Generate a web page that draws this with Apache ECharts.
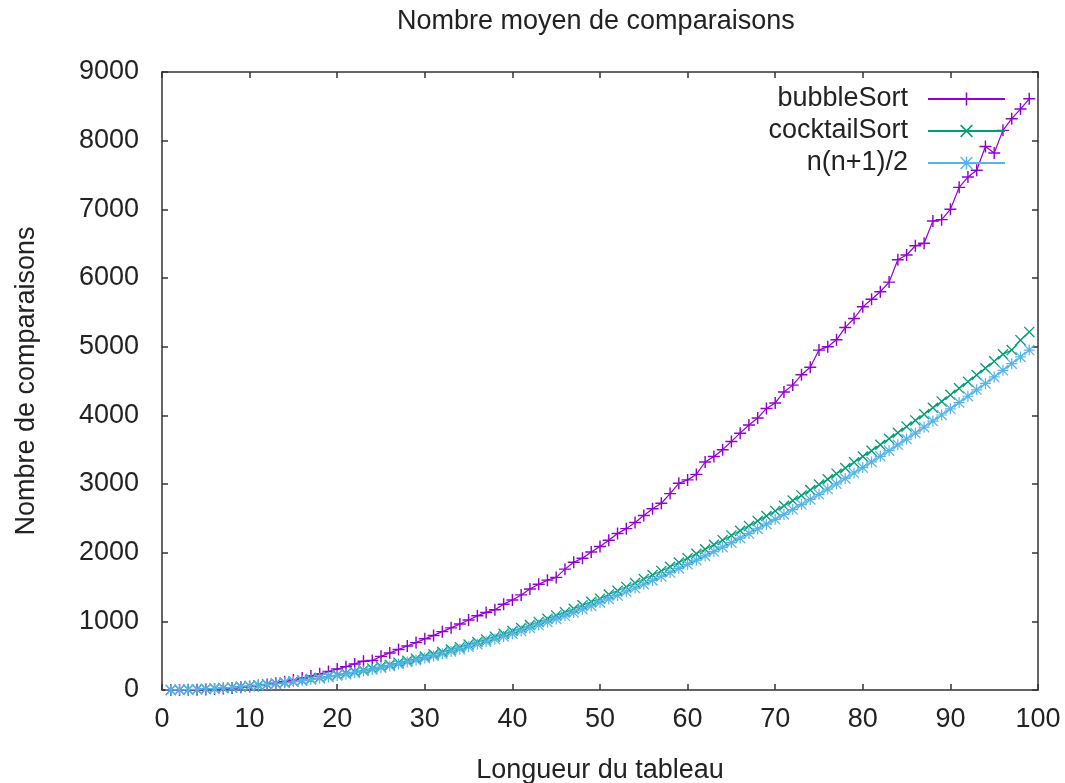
<!DOCTYPE html>
<html>
<head>
<meta charset="utf-8">
<script src="https://cdn.jsdelivr.net/npm/echarts@6/dist/echarts.min.js"></script>
<style>
html,body{margin:0;padding:0;background:#fff;}
#chart{width:1065px;height:783px;}
</style>
</head>
<body>
<div id="chart"></div>
<script>
// ---- data ----
var lengths = [1,2,3,4,5,6,7,8,9,10,11,12,13,14,15,16,17,18,19,20,21,22,23,24,25,26,27,28,29,30,31,32,33,34,35,36,37,38,39,40,41,42,43,44,45,46,47,48,49,50,51,52,53,54,55,56,57,58,59,60,61,62,63,64,65,66,67,68,69,70,71,72,73,74,75,76,77,78,79,80,81,82,83,84,85,86,87,88,89,90,91,92,93,94,95,96,97,98,99];
var bubbleSort = [0,1,3,5,9,14,22,30,40,52,65,80,100,120,145,175,205,235,270,305,340,380,420,430,490,540,590,640,690,745,795,850,905,960,1020,1080,1130,1170,1250,1310,1385,1470,1540,1600,1640,1760,1860,1920,2010,2090,2180,2280,2350,2440,2540,2640,2720,2860,3010,3060,3140,3320,3400,3500,3620,3740,3860,3960,4100,4180,4340,4440,4590,4700,4950,5000,5100,5280,5410,5580,5690,5800,5940,6265,6335,6470,6505,6830,6850,7000,7320,7470,7570,7915,7820,8150,8320,8460,8610];
var cocktailSort = [1,3,6,10,16,22,29,38,47,58,69,82,95,110,126,142,160,179,199,220,242,265,289,314,341,368,396,426,456,488,520,554,588,624,661,698,737,777,818,860,903,947,992,1038,1086,1134,1183,1234,1285,1330,1391,1446,1501,1558,1616,1674,1734,1795,1857,1920,1984,2049,2115,2182,2251,2320,2390,2462,2534,2608,2682,2758,2834,2912,2991,3070,3151,3233,3316,3400,3485,3571,3658,3746,3836,3926,4017,4110,4203,4298,4393,4490,4587,4686,4786,4890,4950,5095,5215];
var triangular = [1,3,6,10,15,21,28,36,45,55,66,78,91,105,120,136,153,171,190,210,231,253,276,300,325,351,378,406,435,465,496,528,561,595,630,666,703,741,780,820,861,903,946,990,1035,1081,1128,1176,1225,1275,1326,1378,1431,1485,1540,1596,1653,1711,1770,1830,1891,1953,2016,2080,2145,2211,2278,2346,2415,2485,2556,2628,2701,2775,2850,2926,3003,3081,3160,3240,3321,3403,3486,3570,3655,3741,3828,3916,4005,4095,4186,4278,4371,4465,4560,4656,4753,4851,4950];
var seriesNames = ['bubbleSort', 'cocktailSort', 'n(n+1)/2'];
var xTicks = [0,10,20,30,40,50,60,70,80,90,100];
var yTicks = [0,1000,2000,3000,4000,5000,6000,7000,8000,9000];

function pairs(ys){ return lengths.map(function(n,i){ return [n, ys[i]]; }); }

var FONT = 'Liberation Sans';
var FS = 27;
var PLUS = 'path://M4.4,0H5.6V10H4.4Z M0,4.4H10V5.6H0Z';
var CROSS = 'path://M0,0.85L0.85,0L10,9.15L9.15,10Z M9.15,0L10,0.85L0.85,10L0,9.15Z';
var STAR = 'path://M4.45,0H5.55V10H4.45Z M0,4.45H10V5.55H0Z M0,0.8L0.8,0L10,9.2L9.2,10Z M9.2,0L10,0.8L0.8,10L0,9.2Z';

function mkSeries(name, ys, color, sym, size){
  return {
    name: name, type: 'line', data: pairs(ys),
    symbol: sym, symbolSize: size, symbolKeepAspect: true,
    showSymbol: true,
    lineStyle: {color: color, width: 1.2},
    itemStyle: {color: color, borderWidth: 0},
    emphasis: {disabled: true},
    animation: false
  };
}

var axisLine = {show: true, onZero: false, lineStyle: {color: '#333', width: 1.5}};
var tick = {show: true, inside: true, length: 6, lineStyle: {color: '#333', width: 1.5}};
var chart = echarts.init(document.getElementById('chart'));
chart.setOption({
  backgroundColor: '#fff',
  animation: false,
  title: {
    text: 'Nombre moyen de comparaisons',
    left: 392, top: 3,
    textStyle: {fontFamily: FONT, fontSize: FS, fontWeight: 'normal', color: '#222'}
  },
  grid: {left: 162, right: 27, top: 72, bottom: 93, containLabel: false, outerBoundsMode: 'none'},
  legend: {
    orient: 'vertical', right: 54, top: 79, align: 'right',
    itemWidth: 77, itemHeight: 16, itemGap: 2,
    selectedMode: false,
    data: seriesNames,
    textStyle: {fontFamily: FONT, fontSize: FS, color: '#222', lineHeight: 30, padding: [0, 15, 0, 0]}
  },
  xAxis: [{
    type: 'value', min: 0, max: 100, interval: 10, position: 'bottom',
    name: 'Longueur du tableau', nameLocation: 'middle', nameGap: 67,
    nameTextStyle: {fontFamily: FONT, fontSize: FS, color: '#222'},
    axisLine: axisLine, axisTick: tick,
    axisLabel: {fontFamily: FONT, fontSize: FS, color: '#222', margin: 16,
      formatter: function(v){ return xTicks.indexOf(v) >= 0 ? String(v) : ''; }},
    splitLine: {show: false}
  }, {
    type: 'value', min: 0, max: 100, interval: 10, position: 'top',
    axisLine: axisLine, axisTick: tick,
    axisLabel: {show: false}, splitLine: {show: false}
  }],
  yAxis: [{
    type: 'value', min: 0, max: 9000, interval: 1000, position: 'left',
    name: 'Nombre de comparaisons', nameLocation: 'middle', nameGap: 122,
    nameTextStyle: {fontFamily: FONT, fontSize: FS, color: '#222'},
    axisLine: axisLine, axisTick: tick,
    axisLabel: {fontFamily: FONT, fontSize: FS, color: '#222', margin: 23,
      formatter: function(v){ return yTicks.indexOf(v) >= 0 ? String(v) : ''; }},
    splitLine: {show: false}
  }, {
    type: 'value', min: 0, max: 9000, interval: 1000, position: 'right',
    axisLine: axisLine, axisTick: tick,
    axisLabel: {show: false}, splitLine: {show: false}
  }],
  series: [
    mkSeries(seriesNames[0], bubbleSort, '#9400D3', PLUS, 12),
    mkSeries(seriesNames[1], cocktailSort, '#009E73', CROSS, 11),
    mkSeries(seriesNames[2], triangular, '#56B4E9', STAR, 11)
  ]
});
</script>
</body>
</html>
